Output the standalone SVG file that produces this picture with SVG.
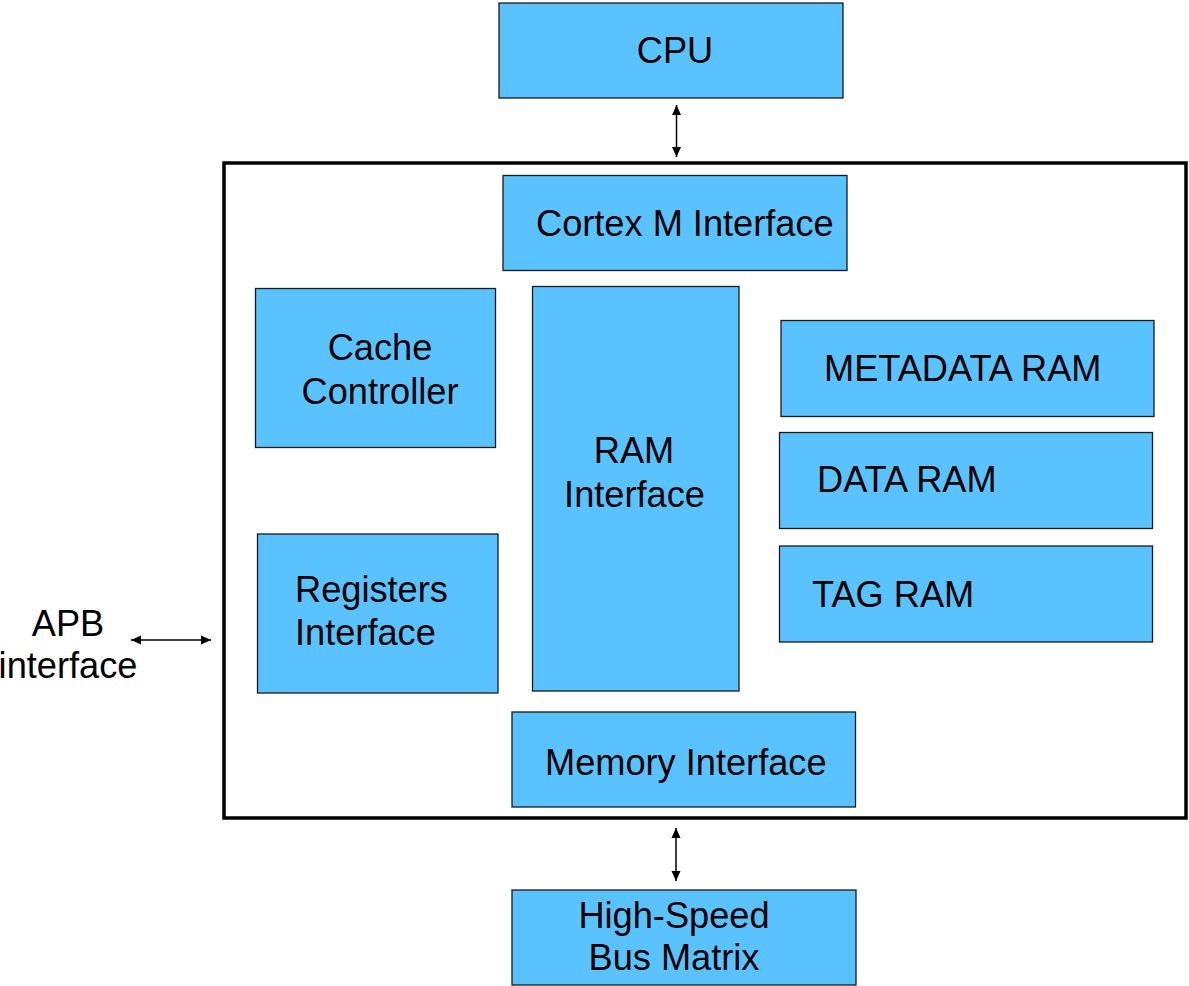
<svg xmlns="http://www.w3.org/2000/svg" width="1189" height="986" viewBox="0 0 1189 986">
<style>
.box{fill:#5AC3FF;stroke:#1a1a1a;stroke-width:1.3}
.t{font-family:"Liberation Sans",Arial,sans-serif;font-size:36.2px;fill:#000}
.m{text-anchor:middle}
.c{stroke:#000;stroke-width:1.5;fill:none}
</style>
<defs>
<marker id="ah" viewBox="0 0 10 10" refX="10" refY="5" markerWidth="10" markerHeight="10" markerUnits="userSpaceOnUse" orient="auto-start-reverse">
<path d="M0,0.5 L10,5 L0,9.5 Z" fill="#000"/>
</marker>
</defs>
<rect id="outer" x="224" y="163" width="962" height="655" fill="#fff" stroke="#000" stroke-width="3.5"/>
<g id="cpu"><rect class="box" x="499" y="3" width="344" height="95"/><text class="t m" x="675" y="63">CPU</text></g>
<g id="cortex"><rect class="box" x="503" y="175.5" width="344" height="95"/><text class="t" x="536" y="236">Cortex M Interface</text></g>
<g id="cache"><rect class="box" x="255.5" y="288.5" width="240" height="159"/><text class="t m" x="380" y="360">Cache</text><text class="t m" x="380" y="404">Controller</text></g>
<g id="ramif"><rect class="box" x="532.5" y="286.5" width="206.5" height="404.5"/><text class="t m" x="634" y="463">RAM</text><text class="t m" x="634.5" y="507">Interface</text></g>
<g id="regs"><rect class="box" x="257.5" y="534" width="240.5" height="159"/><text class="t" x="295" y="602">Registers</text><text class="t" x="295" y="645">Interface</text></g>
<g id="metadata"><rect class="box" x="781" y="320.5" width="373" height="96"/><text class="t" x="824" y="381">METADATA RAM</text></g>
<g id="dataram"><rect class="box" x="779.5" y="432.5" width="373" height="96"/><text class="t" x="817" y="492">DATA RAM</text></g>
<g id="tagram"><rect class="box" x="779.5" y="546" width="373" height="96"/><text class="t" x="812" y="607">TAG RAM</text></g>
<g id="memif"><rect class="box" x="512" y="712" width="343.5" height="95"/><text class="t" x="545" y="775">Memory Interface</text></g>
<g id="hsbm"><rect class="box" x="512" y="890" width="344" height="95"/><text class="t m" x="674" y="928">High-Speed</text><text class="t m" x="674" y="970">Bus Matrix</text></g>
<g id="apb"><text class="t m" x="68" y="636">APB</text><text class="t m" x="68" y="678">interface</text></g>
<g id="connectors">
<line class="c" x1="676.5" y1="105" x2="676.5" y2="157" marker-start="url(#ah)" marker-end="url(#ah)"/>
<line class="c" x1="676" y1="828" x2="676" y2="881" marker-start="url(#ah)" marker-end="url(#ah)"/>
<line class="c" x1="131" y1="640" x2="211" y2="640" marker-start="url(#ah)" marker-end="url(#ah)"/>
</g>
</svg>
